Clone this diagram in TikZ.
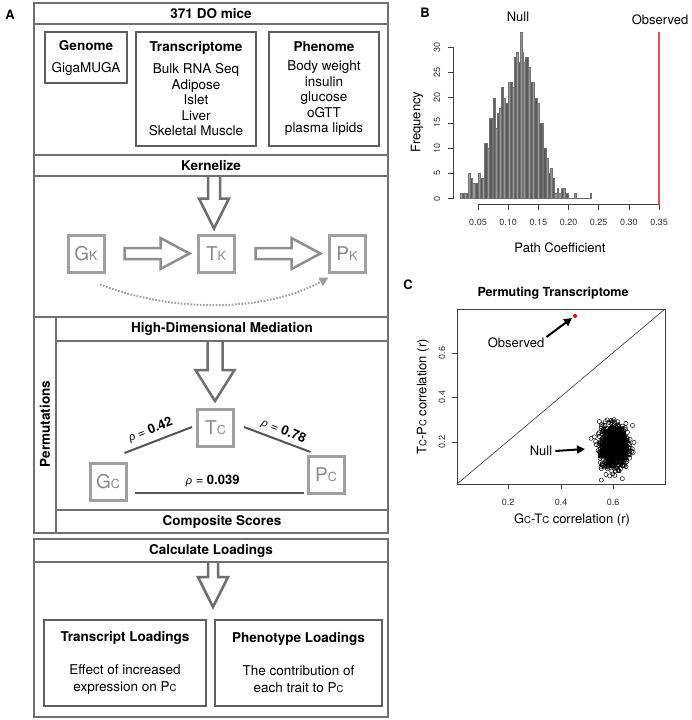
\documentclass[tikz,border=0pt]{standalone}
\usepackage{fontspec}
\setmainfont{TeX Gyre Heros}
\newfontfamily\grk{Liberation Sans}
\usetikzlibrary{calc,arrows.meta}
\definecolor{framec}{HTML}{707070}
\definecolor{boxc}{HTML}{5E5E5E}
\definecolor{kgray}{HTML}{A0A0A0}
\definecolor{ktext}{HTML}{8A8A8A}
\definecolor{arrc}{HTML}{6E6E6E}
\definecolor{harrc}{HTML}{8E8E8E}
\definecolor{medline}{HTML}{555555}
\definecolor{obsred}{HTML}{EE5050}
\definecolor{bardark}{HTML}{5A5A5A}
\definecolor{barlight}{HTML}{999999}
\newcommand\bigsub[2]{{\fontsize{19}{19}\selectfont #1}{\fontsize{12.5}{12.5}\selectfont #2}}
\newcommand\smsub[2]{#1{\fontsize{9.5}{9.5}\selectfont #2}}
\newcommand\rhosym{{\grk\itshape\fontsize{11}{11}\selectfont ρ}}
\newcommand\hollowdown[5]{\draw[hollow] ($(#1)+(-#3,0)$) -- ($(#2)+(-#3,-#5)$) -- ($(#2)+(-#4,-#5)$) -- (#2) -- ($(#2)+(#4,-#5)$) -- ($(#2)+(#3,-#5)$) -- ($(#1)+(#3,0)$);}
\newcommand\hollowright[5]{\draw[hollow,draw=harrc] ($(#1)+(0,-#3)$) -- ($(#2)+(-#5,-#3)$) -- ($(#2)+(-#5,-#4)$) -- (#2) -- ($(#2)+(-#5,#4)$) -- ($(#2)+(-#5,#3)$) -- ($(#1)+(0,#3)$) -- cycle;}
\tikzset{
  frameline/.style={draw=framec, line width=2pt},
  hdr/.style={font=\fontsize{13.5}{15.5}\selectfont\bfseries, inner sep=0pt},
  infobox/.style={draw=boxc, line width=2.5pt, align=center, inner sep=0pt, font=\fontsize{13.5}{15.5}\selectfont},
  kbox/.style={draw=kgray, line width=3pt, minimum width=36pt, minimum height=37pt, inner sep=0pt, text=ktext},
  hollow/.style={draw=arrc, line width=2.5pt, fill=white, line join=miter},
  med/.style={draw=medline, line width=2pt},
  rholab/.style={font=\fontsize{13}{15}\selectfont, inner sep=0pt},
  dotarr/.style={draw=kgray, line width=2pt, dash pattern=on 1.6pt off 1.6pt, -{Triangle[length=9pt,width=9pt,fill=kgray]}},
  axisl/.style={draw=black!75, line width=0.6pt},
  ticklab/.style={font=\fontsize{9}{10}\selectfont, text=black!80, inner sep=0pt},
  plotlab/.style={font=\fontsize{13}{14}\selectfont, inner sep=0pt},
  panellab/.style={font=\fontsize{13}{14}\selectfont\bfseries, inner sep=0pt},
  scpt/.style={draw=black, line width=0.45pt},
  bigarrow/.style={draw=black, line width=2pt, -{Triangle[length=8pt,width=8pt]}}
}
\begin{document}
\begin{tikzpicture}[x=1pt,y=-1pt]
\useasboundingbox (0,0) rectangle (692,720);
\fill[white] (0,0) rectangle (692,720);

% ---------------- Panel A ----------------
\node[panellab] (labA) at (10,15) {A};

% section 1
\node[hdr] (mice) at (211,13.5) {371 DO mice};
\node[infobox, minimum width=82pt, minimum height=51pt] (genome) at (86,57.5) {\textbf{Genome}\\[6.5pt]GigaMUGA};
\node[infobox, minimum width=120pt, minimum height=114pt] (transc) at (196,89) {\textbf{Transcriptome}\\[6.5pt]Bulk RNA Seq\\Adipose\\Islet\\Liver\\Skeletal Muscle};
\node[infobox, minimum width=110pt, minimum height=114pt] (phenome) at (324,89) {\textbf{Phenome}\\[3.5pt]Body weight\\insulin\\glucose\\oGTT\\plasma lipids};

% section 2
\node[hdr] (kern) at (211,165.5) {Kernelize};
\node[kbox] (GK) at (86,253.5) {\bigsub{G}{K}};
\node[kbox] (TK) at (216,253.5) {\bigsub{T}{K}};
\node[kbox] (PK) at (347,253.5) {\bigsub{P}{K}};
\coordinate (kdown) at (214,176);
\coordinate (ktip) at ($(TK.north)+(-2,-5)$);
\hollowdown{kdown}{ktip}{6}{15}{30}
\hollowright{$(GK.east)+(19,0)$}{$(TK.west)+(-7,0)$}{5.5}{15.5}{29}
\hollowright{$(TK.east)+(20,0)$}{$(PK.west)+(-7,0)$}{5.5}{15.5}{29}
\draw[dotarr] ($(GK.south)+(14,11)$) .. controls (180,315) and (270,310) .. ($(PK.south west)+(1,4)$);

% section 3
\node[hdr, rotate=90] (perm) at (45,424) {Permutations};
\node[hdr] (hdm) at (222,329) {High-Dimensional Mediation};
\node[hdr] (comp) at (222,521.5) {Composite Scores};
\node[kbox] (TC) at (215.5,428) {\bigsub{T}{C}};
\node[kbox] (GC) at (108,482) {\bigsub{G}{C}};
\node[kbox] (PC) at (326,475) {\bigsub{P}{C}};
\coordinate (mdown) at (215,341);
\coordinate (mtip) at ($(TC.north)+(-0.5,-7)$);
\hollowdown{mdown}{mtip}{7.5}{19.5}{31}
\draw[med] ($(GC.north east)+(-3,-9)$) -- ($(TC.west)+(-4,-1)$);
\draw[med] ($(TC.east)+(9,-1)$) -- ($(PC.north west)+(4,-3)$);
\draw[med] ($(GC.east)+(7,11)$) -- ($(PC.west)+(-3,18)$);
\node[rholab, rotate=21.8] (r1) at (150.5,430) {\rhosym{} = \textbf{0.42}};
\node[rholab, rotate=-21.8] (r2) at (283.5,431) {\rhosym{} = \textbf{0.78}};
\node[rholab] (r3) at (212.7,480.7) {\rhosym{} = \textbf{0.039}};

% section 4
\node[hdr] (calc) at (211,550.5) {Calculate Loadings};
\node[infobox, font=\fontsize{13.5}{17}\selectfont, minimum width=162pt, minimum height=86pt] (tl) at (125,663) {\textbf{Transcript Loadings}\\[16pt]Effect of increased\\expression on \smsub{P}{C}};
\node[infobox, font=\fontsize{13.5}{17}\selectfont, minimum width=167pt, minimum height=86pt] (pl) at (298.5,663) {\textbf{Phenotype Loadings}\\[16pt]The contribution of\\each trait to \smsub{P}{C}};
\coordinate (ldown) at (213,562);
\coordinate (ltip) at (213,607);
\hollowdown{ldown}{ltip}{5}{15}{30}

% frames
\draw[frameline] (34,3) rectangle (388,155);
\draw[frameline] (34,24) -- (388,24);
\draw[frameline] (34,155) rectangle (388,317);
\draw[frameline] (34,176) -- (388,176);
\draw[frameline] (34,317) rectangle (388,533);
\draw[frameline] (56,317) -- (56,533);
\draw[frameline] (56,341) -- (388,341);
\draw[frameline] (56,510) -- (388,510);
\draw[frameline] (34,539) rectangle (388,717);
\draw[frameline] (34,562) -- (388,562);

% ---------------- Panel B ----------------
\node[panellab] (labB) at (425,13) {B};
\node[plotlab] (nullB) at (518,17) {Null};
\node[plotlab] (obsB) at (660,20) {Observed};
\draw[black!60, line width=0.5pt] (460,198.5) -- (592,198.5);
\foreach \xa/\xb/\h [count=\k] in {460/462/1,462/464/1,464/466/1,466/467.7/1,467.7/470/5,470/472.3/4,472.3/475/3,475/477.7/3,477.7/480/5,480/481.7/4,481.7/484.3/4,484.3/486.7/11,486.7/489/10,489/491.7/16,491.7/493.3/16,493.3/495/20,495/496.7/14,496.7/499/17,499/501/18,501/503.3/22,503.3/505/20,505/507.7/19,507.7/510/23,510/512.3/23,512.3/514.3/22,514.3/515.7/28,515.7/517.7/29,517.7/520/27,520/521.7/33,521.7/523.3/29,523.3/525/27,525/527.7/28,527.7/530/26,530/531.7/23,531.7/534.3/23,534.3/536.7/20,536.7/539/19,539/541.7/15,541.7/543.3/15,543.3/545.7/10,545.7/547.7/8,547.7/550/5,550/551.7/6,551.7/554.3/4,554.3/556.7/1,556.7/558.3/2,558.3/561/1,561/563.3/2,563.3/565/2,565/567.7/1,574.3/576/1,589.7/591.4/1}{
  \pgfmathsetmacro\ytop{198.5-5.04*\h}
  \ifodd\k\def\bc{barlight}\else\def\bc{bardark}\fi
  \draw[draw=black!55, line width=0.35pt, fill=\bc] (\xa,198.5) rectangle (\xb,\ytop);
}
\draw[obsred, line width=1.05pt] (659,32) -- (659,205);
\draw[axisl] (453,198.5) -- (453,47.3);
\foreach \v in {0,5,...,30}{
  \pgfmathsetmacro\yy{198.5-5.04*\v}
  \draw[axisl] (453,\yy) -- (448,\yy);
  \node[ticklab, rotate=90] at (437,\yy) {\v};
}
\draw[axisl] (478,204.5) -- (659,204.5);
\foreach \i/\lab in {0/0.05,1/0.10,2/0.15,3/0.20,4/0.25,5/0.30,6/0.35}{
  \pgfmathsetmacro\xx{478+30.17*\i}
  \draw[axisl] (\xx,204.5) -- (\xx,209.5);
  \node[ticklab] at (\xx,222) {\lab};
}
\node[plotlab, rotate=90] (freq) at (417,122) {Frequency};
\node[plotlab] (pathc) at (560,248) {Path Coefficient};

% ---------------- Panel C ----------------
\node[panellab] (labC) at (408,285) {C};
\node[plotlab, font=\fontsize{12.5}{14}\selectfont\bfseries] (ctitle) at (553,293) {Permuting Transcriptome};
\begin{scope}
\clip (457,309) rectangle (665,484);
\pgfmathsetseed{4242}
\foreach \i in {1,...,1000}{
  \pgfmathsetmacro\ua{rnd*0.9999+0.0001}
  \pgfmathsetmacro\ub{rnd}
  \pgfmathsetmacro\rr{sqrt(-2*ln(\ua))}
  \pgfmathsetmacro\px{614+6.5*\rr*cos(360*\ub)}
  \pgfmathsetmacro\py{447+10*\rr*sin(360*\ub)}
  \draw[scpt] (\px,\py) circle[radius=2.1];
}
\end{scope}
\draw[black!80, line width=0.6pt] (457,484) -- (665,309);
\draw[axisl] (457,309) rectangle (665,484);
\foreach \xx/\lab in {508/0.2,561/0.4,613/0.6}{
  \draw[axisl] (\xx,484) -- (\xx,489);
  \node[ticklab] at (\xx,502) {\lab};
}
\foreach \yy/\lab in {442/0.2,397/0.4,353/0.6}{
  \draw[axisl] (457,\yy) -- (452,\yy);
  \node[ticklab, rotate=90] at (442,\yy) {\lab};
}
\node[plotlab] (xlab) at (572,520) {\smsub{G}{C}-\smsub{T}{C} correlation (r)};
\node[plotlab, rotate=90] (ylab) at (423,397) {\smsub{T}{C}-\smsub{P}{C} correlation (r)};
\node[circle, fill=red, inner sep=0pt, minimum size=4pt] (obspt) at (575,316) {};
\node[plotlab] (obslab) at (516,343) {Observed};
\draw[bigarrow] ($(obslab.east)+(2,-6)$) -- ($(obspt)+(-3,2)$);
\node[plotlab] (nulllab) at (541,451) {Null};
\draw[bigarrow] ($(nulllab.east)+(3,0)$) -- (585,449);
\end{tikzpicture}
\end{document}
